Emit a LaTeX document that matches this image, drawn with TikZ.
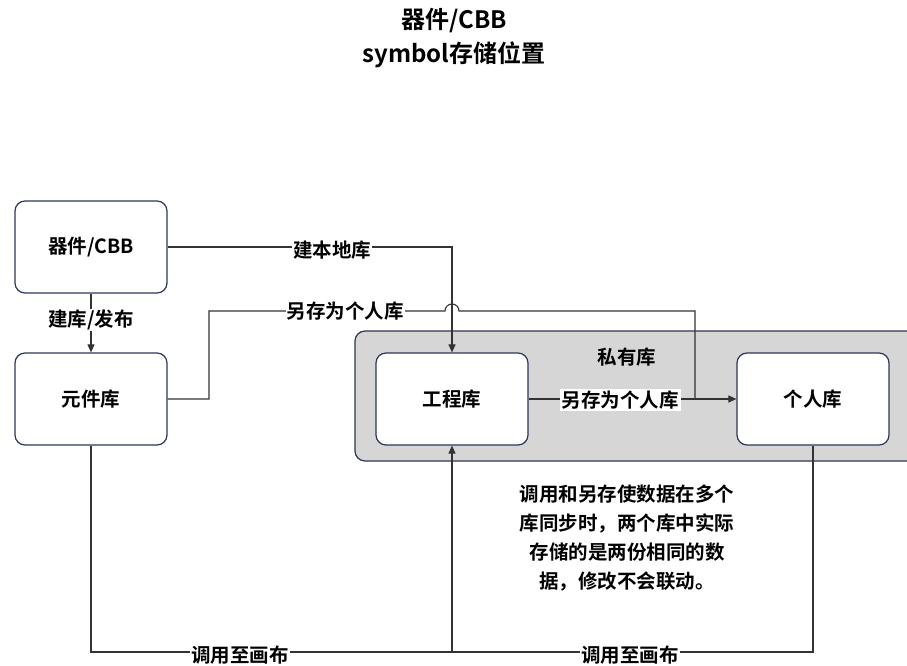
\documentclass[tikz,border=0pt]{standalone}
\usepackage{fontspec}
\setmainfont{Noto Sans CJK SC}[BoldFont={* Bold}]
\usetikzlibrary{arrows.meta}
\definecolor{bordc}{HTML}{2E3657}
\definecolor{linec}{HTML}{333333}
\definecolor{grpc}{HTML}{D6D6D6}
\newcommand{\fmain}{\fontsize{19.5bp}{22bp}\selectfont\bfseries}
\begin{document}
\begin{tikzpicture}[x=1bp,y=-1bp,
  box/.style={draw=bordc,line width=1.2bp,rounded corners=10bp,fill=white,minimum width=152bp,minimum height=92bp,font=\fmain},
  conn/.style={draw=linec,line width=1.1bp},
  arr/.style={conn,-{Triangle[length=8bp,width=7bp]}},
  lbl/.style={fill=white,inner sep=1bp,font=\fmain}]
\useasboundingbox (0,0) rectangle (907,666);
\begin{scope}
\clip (0,0) rectangle (907,666);
\draw[draw=bordc,line width=1.2bp,fill=grpc,rounded corners=10bp] (355,331) rectangle (918,461);
\end{scope}
\node[font=\fontsize{24bp}{28bp}\selectfont\bfseries] (t1) at (454,21) {器件/CBB};
\node[font=\fontsize{24bp}{28bp}\selectfont\bfseries] (t2) at (454,55) {symbol存储位置};
\node[box] (cbb) at (91,247) {器件/CBB};
\node[box] (yjk) at (91,399) {元件库};
\node[box] (gck) at (452,399) {工程库};
\node[box] (grk) at (813,399) {个人库};
\node[font=\fmain] (syk) at (627,357) {私有库};
\coordinate (j1) at (695,399);
\coordinate (b1) at (452,652);
% 建本地库
\draw[arr] (cbb.east) -- (gck.north |- cbb.east) -- (gck.north);
\node[lbl] at (332,250) {建本地库};
% 建库/发布
\draw[arr] (cbb.south) -- (yjk.north);
\node[lbl] at (91,320) {建库/发布};
% 另存为个人库 (元件库)
\draw[conn] (yjk.east) -- (209,399) -- (209,311) -- (445,311) arc (180:360:7) -- (695,311) -- (j1);
\node[lbl] at (345,311) {另存为个人库};
% 工程库 -> 个人库
\draw[arr] (gck.east) -- (grk.west);
\node[lbl,inner sep=2bp] at (620,400) {另存为个人库};
% 调用至画布
\draw[arr] (yjk.south) -- (yjk.south |- b1) -- (b1) -- (gck.south);
\draw[conn] (grk.south) -- (grk.south |- b1) -- (b1);
\node[lbl] at (240,655) {调用至画布};
\node[lbl] at (630,655) {调用至画布};
\node[font=\fmain,align=center,text width=260bp] (note) at (627,538) {调用和另存使数据在多个\\[7bp]库同步时，两个库中实际\\[7bp]存储的是两份相同的数\\[7bp]据，修改不会联动。};
\end{tikzpicture}
\end{document}
